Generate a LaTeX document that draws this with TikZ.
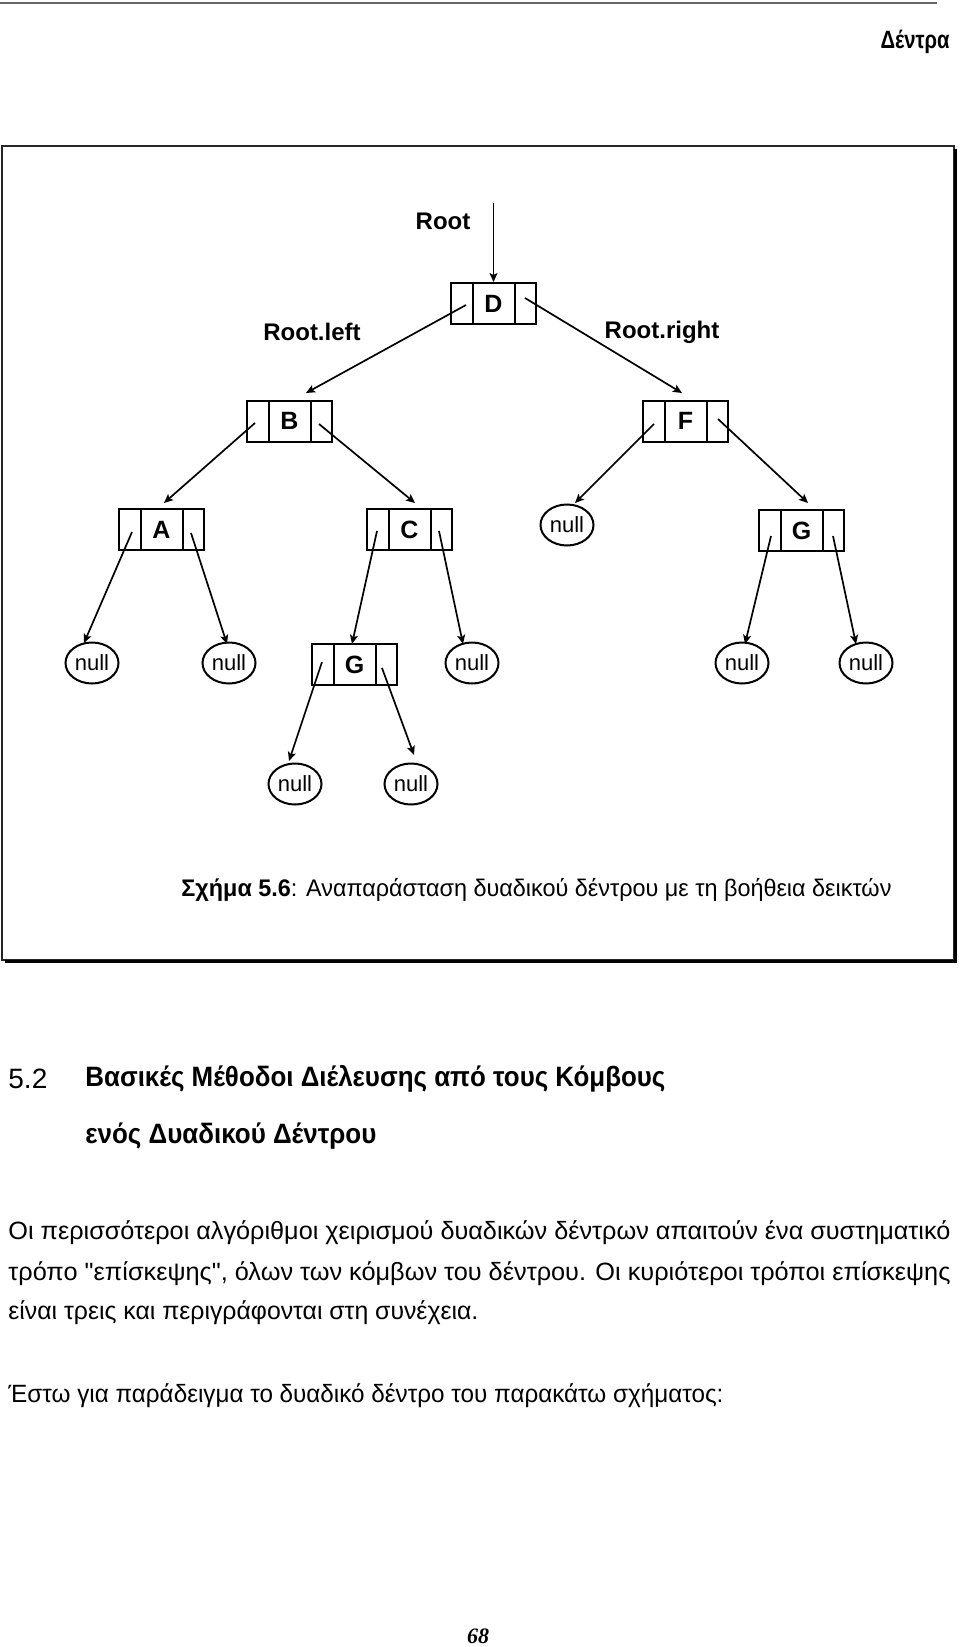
\documentclass[tikz,border=0pt]{standalone}
\usepackage{fontspec}
\usepackage{graphicx}
\setmainfont{Liberation Sans}
\newfontfamily\pagefont{Liberation Serif}
\usetikzlibrary{arrows.meta,shapes.geometric}
\newcommand\sq{\XeTeXglyph\XeTeXglyphindex "quotedbl"\relax}
\tikzset{
  tbox/.style={draw, line width=1pt, minimum width=42.5pt, minimum height=20.5pt, inner sep=0pt, font=\fontsize{12.5}{14}\selectfont\bfseries},
  nullnode/.style={draw, ellipse, line width=1pt, minimum width=26.5pt, minimum height=20.5pt, inner sep=0pt, font=\fontsize{11}{13}\selectfont},
  ptr/.style={line width=0.85pt, -{Stealth[length=4.5pt,width=4pt,inset=1pt]}},
  lbl/.style={inner sep=0pt, font=\fontsize{12}{14}\selectfont\bfseries},
  txt/.style={inner sep=0pt, anchor=west},
}
\newcommand\cells[1]{\draw[line width=1pt] ([xshift=11.5pt]#1.north west) -- ([xshift=11.5pt]#1.south west) ([xshift=-11pt]#1.north east) -- ([xshift=-11pt]#1.south east);}
\begin{document}
\begin{tikzpicture}[x=0.5pt,y=-0.5pt]
\useasboundingbox (0,0) rectangle (960,1647);
% header
\draw[black!60, line width=1pt] (0,3) -- (937,3);
\node[inner sep=0pt, anchor=east] (hdr) at (950,42) {\resizebox{34.5pt}{\height}{\fontsize{12.5}{14}\selectfont\bfseries Δέντρα}};
% frame
\draw[line width=1.1pt, black!85] (2,146) rectangle (954,960);
\draw[line width=1.6pt] (955.5,149) -- (955.5,961.5) -- (5,961.5);
% tree nodes
\node[tbox] (D) at (493.5,303.5) {D};
\node[tbox] (B) at (289.5,421) {B};
\node[tbox] (F) at (685.5,421) {F};
\node[tbox] (A) at (161.5,529.5) {A};
\node[tbox] (C) at (409.5,529.5) {C};
\node[tbox] (G1) at (801.5,530.5) {G};
\node[tbox] (G2) at (354.5,664.5) {G};
\foreach \n in {D,B,F,A,C,G1,G2} {\cells{\n}}
\node[nullnode] (n1) at (92,663) {null};
\node[nullnode] (n2) at (229,663) {null};
\node[nullnode] (n3) at (472,663) {null};
\node[nullnode] (n4) at (567,525) {null};
\node[nullnode] (n5) at (742,663) {null};
\node[nullnode] (n6) at (866,663) {null};
\node[nullnode] (n7) at (295,784) {null};
\node[nullnode] (n8) at (411,784) {null};
% labels
\node[lbl] (lroot) at (443,221) {Root};
\node[lbl] (lleft) at (312,332) {Root.left};
\node[lbl] (lright) at (662,332) {Root.right};
% pointers
\coordinate (rootTop) at (493.5,203);
\draw[ptr] (rootTop) -- (D.north);
\draw[ptr] ([shift={(-27.5,1.5)}]D.center) -- ([shift={(16.5,-28)}]B.center);
\draw[ptr] ([shift={(31.5,-5.5)}]D.center) -- ([shift={(-3.5,-28)}]F.center);
\draw[ptr] ([shift={(-34.5,2)}]B.center) -- ([shift={(2.5,-26.5)}]A.center);
\draw[ptr] ([shift={(29.5,3)}]B.center) -- ([shift={(5.5,-26.5)}]C.center);
\draw[ptr] ([shift={(-31.5,3)}]F.center) -- ([shift={(8,-22)}]n4.center);
\draw[ptr] ([shift={(32.5,-2)}]F.center) -- ([shift={(6.5,-27.5)}]G1.center);
\draw[ptr] ([shift={(-29.5,2.5)}]A.center) -- ([shift={(-8,-20)}]n1.center);
\draw[ptr] ([shift={(29.5,3.5)}]A.center) -- ([shift={(-2,-19)}]n2.center);
\draw[ptr] ([shift={(-32.5,1.5)}]C.center) -- ([shift={(-2.5,-20.5)}]G2.center);
\draw[ptr] ([shift={(29.5,1.5)}]C.center) -- ([shift={(-9,-19)}]n3.center);
\draw[ptr] ([shift={(-30.5,5.5)}]G1.center) -- ([shift={(3,-19)}]n5.center);
\draw[ptr] ([shift={(31.5,5.5)}]G1.center) -- ([shift={(-10,-19)}]n6.center);
\draw[ptr] ([shift={(-32.5,-2.5)}]G2.center) -- ([shift={(-6,-23)}]n7.center);
\draw[ptr] ([shift={(27.5,3.5)}]G2.center) -- ([shift={(3,-29)}]n8.center);
% caption
\node[txt] (cap) at (181,890) {\resizebox{355pt}{\height}{\fontsize{12}{14}\selectfont\textbf{Σχήμα 5.6}: Αναπαράσταση δυαδικού δέντρου με τη βοήθεια δεικτών}};
% section heading
\node[txt] (secn) at (8,1079) {\resizebox{19.5pt}{\height}{\fontsize{14}{16}\selectfont 5.2}};
\node[txt] (sec1) at (85,1079) {\resizebox{290pt}{\height}{\fontsize{14}{16}\selectfont\bfseries Βασικές Μέθοδοι Διέλευσης από τους Κόμβους}};
\node[txt] (sec2) at (85,1136) {\resizebox{145.5pt}{\height}{\fontsize{14}{16}\selectfont\bfseries ενός Δυαδικού Δέντρου}};
% paragraph
\node[txt] (p1) at (8,1233) {\resizebox{471pt}{\height}{\fontsize{12.5}{14}\selectfont Οι περισσότεροι αλγόριθμοι χειρισμού δυαδικών δέντρων απαιτούν ένα συστηματικό}};
\node[txt] (p2) at (8,1274) {\resizebox{471pt}{\height}{\fontsize{12.5}{14}\selectfont τρόπο \sq επίσκεψης\sq, όλων των κόμβων του δέντρου. Οι κυριότεροι τρόποι επίσκεψης}};
\node[txt] (p3) at (8,1313) {\resizebox{235pt}{\height}{\fontsize{12.5}{14}\selectfont είναι τρεις και περιγράφονται στη συνέχεια.}};
\node[txt] (p4) at (8,1396) {\resizebox{357.5pt}{\height}{\fontsize{12.5}{14}\selectfont Έστω για παράδειγμα το δυαδικό δέντρο του παρακάτω σχήματος:}};
% page number
\node[inner sep=0pt] (pg) at (478,1636) {\pagefont\fontsize{11}{13}\selectfont\bfseries\itshape 68};
\end{tikzpicture}
\end{document}
